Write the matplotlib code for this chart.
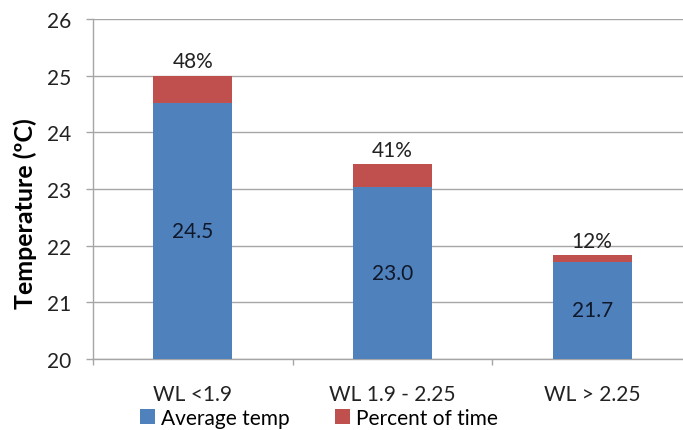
import numpy as np
import matplotlib
matplotlib.use('Agg')
import matplotlib.pyplot as plt

categories = ['WL <1.9', 'WL 1.9 - 2.25', 'WL > 2.25']
avg_temp = [24.52, 23.03, 21.72]
avg_labels = ['24.5', '23.0', '21.7']
pct_time = [48, 41, 12]
yticks = [20, 21, 22, 23, 24, 25, 26]

plt.rcParams['font.family'] = ['Lato', 'DejaVu Sans']

size = 683, 431
dpi = 100.0
fig = plt.figure(figsize=(size[0]/dpi, size[1]/dpi), dpi=dpi)
ax = fig.add_axes([93/683, 71/431, 599/683, 340/431])

blue, red = '#4F81BD', '#C0504D'
grid = '#A6A6A6'
fs = 15
x = np.arange(len(categories))
base = yticks[0]
heights = [t - base for t in avg_temp]
tops = [p/100.0 for p in pct_time]

b1 = ax.bar(x, heights, 0.395, bottom=base, color=blue, zorder=3, label='Average temp')
b2 = ax.bar(x, tops, 0.395, bottom=avg_temp, color=red, zorder=3, label='Percent of time')

for i in range(len(x)):
    ax.text(x[i], base + heights[i]/2, avg_labels[i], ha='center', va='center',
            fontsize=fs, color='#10182a', zorder=4)
    ax.annotate('%d%%' % pct_time[i], (x[i], avg_temp[i] + tops[i]),
                xytext=(0, 3), textcoords='offset points', ha='center', va='bottom',
                fontsize=fs, color='#222222', zorder=4)

ax.set_xlim(-0.5, 2.5)
ax.set_ylim(yticks[0], yticks[-1])
ax.set_yticks(yticks)
ax.set_xticks(x)
ax.set_xticklabels(categories, fontsize=fs, color='#222222')
ax.set_xticks([-0.5, 0.5, 1.5, 2.5], minor=True)
ax.tick_params(axis='x', which='major', length=0, pad=18)
ax.tick_params(axis='x', which='minor', length=4, color=grid, width=1)
ax.tick_params(axis='y', length=5, color=grid, width=1, pad=11, labelsize=fs, labelcolor='#222222')
ax.yaxis.grid(True, color=grid, lw=1, zorder=0)
for s in ['top', 'right']:
    ax.spines[s].set_visible(False)
for s in ['left', 'bottom']:
    ax.spines[s].set_color(grid)
    ax.spines[s].set_linewidth(1)

ax.set_ylabel('Temperature (ºC)', fontsize=18, fontweight='bold')
ax.yaxis.set_label_coords(-0.094, 0.43)

fig.legend(handles=[b1, b2], loc='center', bbox_to_anchor=(319/683, 1 - 419/431),
           ncol=2, frameon=False, fontsize=fs, handlelength=0.7, handleheight=0.7,
           handletextpad=0.3, columnspacing=2.2, borderpad=0)

fig.savefig('out.png', dpi=dpi)
